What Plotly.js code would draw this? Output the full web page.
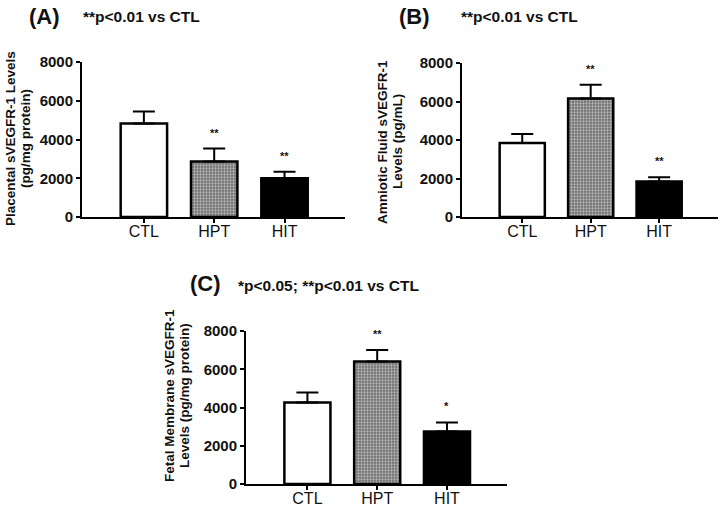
<!DOCTYPE html>
<html>
<head>
<meta charset="utf-8">
<script src="https://cdn.plot.ly/plotly-3.0.1.min.js"></script>
<style>html,body{margin:0;padding:0;background:#fff;}#chart{width:722px;height:507px;}</style>
</head>
<body>
<div id="chart"></div>
<script>
// ---- data ----
const groups = ['CTL', 'HPT', 'HIT'];
const placentaMean = [4820, 2860, 2000];
const placentaSEM = [620, 670, 340];
const amnioticMean = [3840, 6160, 1850];
const amnioticSEM = [470, 710, 210];
const membraneMean = [4260, 6400, 2750];
const membraneSEM = [520, 610, 470];
const placentaSig = ['', '**', '**'];
const amnioticSig = ['', '**', '**'];
const membraneSig = ['', '**', '*'];
const yTicks = [0, 2000, 4000, 6000, 8000];

const FONT = 'Arial, "Liberation Sans", Helvetica, sans-serif';
const W = 722, H = 507;
const px = x => x / W;
const py = y => 1 - y / H;

const barColors = ['#ffffff', '#6e6e6e', '#000000'];
const patternShapes = ['', '.', ''];

function barTrace(means, sems, xa, ya) {
  return {
    type: 'bar', x: groups, y: means, xaxis: xa, yaxis: ya,
    width: 0.66,
    marker: {
      color: barColors,
      line: {color: '#000', width: 2.5},
      pattern: {shape: patternShapes, size: 3, solidity: 0.45, fgcolor: '#d6d6d6', fillmode: 'overlay'}
    },
    error_y: {type: 'data', symmetric: false, array: sems, arrayminus: [0, 0, 0], color: '#000', thickness: 2, width: 11},
    hoverinfo: 'skip', showlegend: false
  };
}

const data = [
  barTrace(placentaMean, placentaSEM, 'x', 'y'),
  barTrace(amnioticMean, amnioticSEM, 'x2', 'y2'),
  barTrace(membraneMean, membraneSEM, 'x3', 'y3')
];

function xAxis(domain, anchor) {
  return {
    domain: domain, anchor: anchor, type: 'category', range: [-0.88, 2.86],
    showline: true, linecolor: '#000', linewidth: 2, ticks: 'outside', ticklen: 4, tickwidth: 2, tickcolor: '#000',
    ticklabelstandoff: -5,
    showgrid: false, zeroline: false, fixedrange: true,
    tickfont: {family: FONT, size: 16, color: '#111'}
  };
}
function yAxis(domain, anchor) {
  return {
    domain: domain, anchor: anchor, range: [0, 8000], tickvals: yTicks,
    showline: true, linecolor: '#000', linewidth: 2, ticks: 'outside', ticklen: 4, tickwidth: 2, tickcolor: '#000',
    showgrid: false, zeroline: false, fixedrange: true,
    tickfont: {family: FONT, size: 15, color: '#111', weight: 'bold'}
  };
}

const annotations = [];
function label(text, x, y, size) {
  annotations.push({text: text, xref: 'paper', yref: 'paper', x: px(x), y: py(y), xanchor: 'left', yanchor: 'middle',
    showarrow: false, font: {family: FONT, size: size, color: '#111', weight: 'bold'}});
}
function ytitle(lines, xs, y) {
  lines.forEach((t, i) => {
    annotations.push({text: t, xref: 'paper', yref: 'paper', x: px(xs[i]), y: py(y), xanchor: 'center', yanchor: 'middle',
      textangle: -90, showarrow: false, font: {family: FONT, size: 13.5, color: '#111', weight: 'bold'}});
  });
}
function stars(sig, means, sems, xa, ya) {
  sig.forEach((s, i) => {
    if (!s) return;
    annotations.push({text: s, xref: xa, yref: ya, x: groups[i], y: means[i] + sems[i], yshift: 16,
      showarrow: false, font: {family: FONT, size: 11, color: '#111', weight: 'bold'}});
  });
}

label('(A)', 27, 17, 22);
label('**p<0.01 vs CTL', 81, 16, 15.5);
label('(B)', 397, 17, 22);
label('**p<0.01 vs CTL', 459, 16, 15.5);
label('(C)', 188, 283, 22);
label('*p<0.05; **p<0.01 vs CTL', 236, 285, 15.5);

ytitle(['Placental sVEGFR-1 Levels', '(pg/mg protein)'], [10, 25], 139);
ytitle(['Amniotic Fluid sVEGFR-1', 'Levels (pg/mL)'], [382, 397], 142);
ytitle(['Fetal Membrane sVEGFR-1', 'Levels (pg/mg protein)'], [169, 184], 396);

stars(placentaSig, placentaMean, placentaSEM, 'x', 'y');
stars(amnioticSig, amnioticMean, amnioticSEM, 'x2', 'y2');
stars(membraneSig, membraneMean, membraneSEM, 'x3', 'y3');

const layout = {
  width: W, height: H,
  margin: {l: 0, r: 0, t: 0, b: 0},
  paper_bgcolor: '#fff', plot_bgcolor: 'rgba(0,0,0,0)',
  font: {family: FONT, color: '#111'},
  showlegend: false,
  xaxis: xAxis([px(82), px(345)], 'y'),
  yaxis: yAxis([py(217), py(62)], 'x'),
  xaxis2: xAxis([px(462), px(718)], 'y2'),
  yaxis2: yAxis([py(217), py(63)], 'x2'),
  xaxis3: xAxis([px(246), px(507)], 'y3'),
  yaxis3: yAxis([py(484), py(331)], 'x3'),
  annotations: annotations
};

Plotly.newPlot('chart', data, layout, {staticPlot: true, displayModeBar: false});
</script>
</body>
</html>
